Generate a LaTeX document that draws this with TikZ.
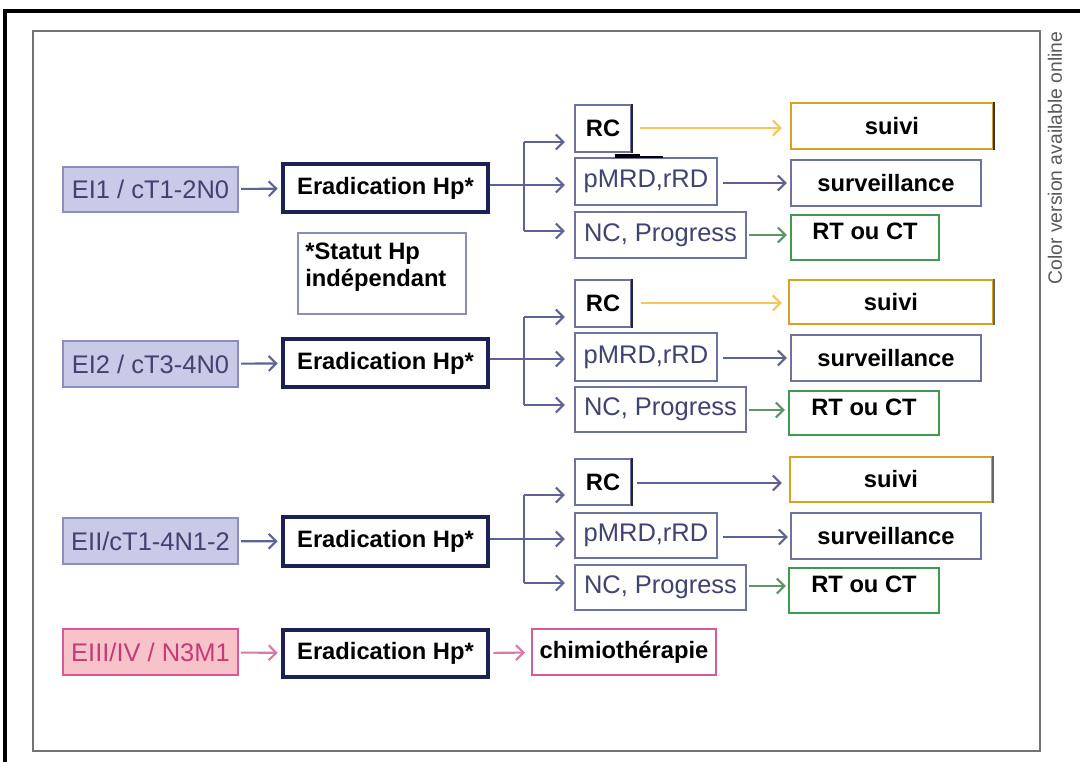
\documentclass[tikz,border=0pt]{standalone}
\usepackage{fontspec}
\setmainfont{Liberation Sans}
\usetikzlibrary{arrows.meta}
\definecolor{lav}{HTML}{C8CAE8}
\definecolor{lavb}{HTML}{8A8EBE}
\definecolor{slate}{HTML}{40436F}
\definecolor{navy}{HTML}{1C2155}
\definecolor{bgray}{HTML}{6E729F}
\definecolor{arrc}{HTML}{5F6391}
\definecolor{gold}{HTML}{D9A21E}
\definecolor{goldarr}{HTML}{F7C55A}
\definecolor{grn}{HTML}{3F9A4F}
\definecolor{grnarr}{HTML}{5E9468}
\definecolor{pinkf}{HTML}{F7C3C8}
\definecolor{pinkb}{HTML}{D65A98}
\definecolor{pinkt}{HTML}{C23C7A}
\definecolor{pinkarr}{HTML}{D87AA8}
\newcommand\reg{\fontsize{14.5pt}{16pt}\selectfont}
\newcommand\bld{\fontsize{13.5pt}{16pt}\selectfont\bfseries}
\newcommand\mybox[7]{\node[#6, minimum width={(#4-#2)*0.2mm}, minimum height={(#5-#3)*0.2mm}] (#1) at ({(#2+#4)/2},{(#3+#5)/2}) {#7};}
\newcommand\up[1]{\raisebox{2.4mm}{#1}}
\tikzset{
  base/.style={rectangle, inner sep=0pt, line width=1.2pt},
  stage/.style={base, fill=lav, draw=lavb, text=slate, font=\reg},
  erad/.style={base, draw=navy, line width=2.6pt, fill=white, font=\bld},
  plainbox/.style={base, draw=bgray, text=slate, font=\reg},
  rcbox/.style={base, draw=bgray, font=\bld},
  resbox/.style={base, draw=bgray, font=\bld},
  suivibox/.style={base, draw=gold, font=\bld},
  rtbox/.style={base, draw=grn, font=\bld},
  notebox/.style={base, draw=bgray!80, font=\bld, align=left},
  pinkstage/.style={base, fill=pinkf, draw=pinkb, text=pinkt, font=\reg},
  chimbox/.style={base, draw=pinkb, font=\bld},
  arr/.style={draw=arrc, line width=1.2pt, -{Straight Barb[length=1.5mm,width=3mm]}},
  garr/.style={arr, draw=goldarr},
  grarr/.style={arr, draw=grnarr},
  parr/.style={arr, draw=pinkarr},
  lin/.style={draw=arrc, line width=1.2pt},
}
\begin{document}
\begin{tikzpicture}[x=0.2mm,y=-0.2mm]
\useasboundingbox (0,0) rectangle (1080,762);
\fill[white] (0,0) rectangle (1080,762);
% frames
\draw[line width=2.4pt, black] (5,762) -- (5,11) -- (1080,11);
\draw[line width=1.2pt, black!55] (33,31) rectangle (1040,751);
\node[rotate=90, text=black!65, font=\fontsize{11pt}{13pt}\selectfont] (cv) at (1055,158) {Color version available online};

% row 1
\mybox{S1}{63}{167}{238}{212}{stage}{EI1 / cT1-2N0}
\mybox{E1}{283}{164}{488}{212}{erad}{Eradication Hp*}
\mybox{NOTE}{298}{233}{466}{314}{notebox}{}
\node[font=\bld, align=left, anchor=north west, inner sep=0pt] (notet) at (305,243) {*Statut Hp\\[-1pt]indépendant};
\mybox{RC1}{575}{105}{631}{152}{rcbox}{RC}
\mybox{P1}{575}{158}{717}{205}{plainbox}{pMRD,rRD}
\mybox{N1}{575}{212}{746}{258}{plainbox}{NC, Progress}
\mybox{SV1}{791}{103}{993}{149}{suivibox}{suivi}
\mybox{SU1}{791}{160}{981}{206}{resbox}{surveillance}
\mybox{RT1}{791}{215}{939}{260}{rtbox}{\up{RT ou CT}}
\draw[line width=1.6pt, black!85] (RC1.north east) -- (RC1.south east);
\draw[line width=1.6pt, black!80] (SV1.north east) -- (SV1.south east);
\draw[line width=2.2pt, black] (615,156) -- (640,156);
\draw[line width=1pt, black] (640,157) -- (663,157);
\coordinate (j1t) at (524,142);
\coordinate (j1m) at (524,185);
\coordinate (j1b) at (524,231);
\draw[arr, shorten <=0.4mm, shorten >=0.6mm] (S1) -- (E1);
\draw[arr, shorten >=1.8mm] (E1.east |- j1m) -- (P1.west |- j1m);
\draw[lin] (j1b) -- (j1t);
\draw[arr, shorten >=1.8mm] (j1t) -- (RC1.west |- j1t);
\draw[arr, shorten >=1.8mm] (j1b) -- (N1.west |- j1b);
\draw[garr, shorten <=1.6mm, shorten >=1.6mm] (RC1.east |- 0,128) -- (SV1.west |- 0,128);
\draw[arr, shorten <=1mm, shorten >=0.6mm] (P1.east |- 0,183) -- (SU1.west |- 0,183);
\draw[grarr, shorten <=0.4mm, shorten >=0.6mm] (N1.east |- 0,235) -- (RT1.west |- 0,235);

% row 2
\mybox{S2}{63}{341}{238}{387}{stage}{EI2 / cT3-4N0}
\mybox{E2}{283}{339}{488}{387}{erad}{Eradication Hp*}
\mybox{RC2}{575}{280}{631}{327}{rcbox}{RC}
\mybox{P2}{575}{333}{717}{381}{plainbox}{pMRD,rRD}
\mybox{N2}{575}{387}{746}{432}{plainbox}{NC, Progress}
\mybox{SV2}{789}{280}{993}{324}{suivibox}{suivi}
\mybox{SU2}{791}{335}{981}{381}{resbox}{surveillance}
\mybox{RT2}{789}{391}{939}{435}{rtbox}{\up{RT ou CT}}
\draw[line width=1.6pt, black!85] (RC2.north east) -- (RC2.south east);
\draw[line width=1.2pt, black!60] (SV2.north east) -- (SV2.south east);
\coordinate (j2t) at (524,317);
\coordinate (j2m) at (524,359);
\coordinate (j2b) at (524,405);
\draw[arr, shorten <=0.4mm, shorten >=0.6mm] (S2) -- (E2);
\draw[arr, shorten >=1.8mm] (E2.east |- j2m) -- (P2.west |- j2m);
\draw[lin] (j2b) -- (j2t);
\draw[arr, shorten >=1.8mm] (j2t) -- (RC2.west |- j2t);
\draw[arr, shorten >=1.8mm] (j2b) -- (N2.west |- j2b);
\draw[garr, shorten <=1.8mm, shorten >=1.2mm] (RC2.east |- 0,303) -- (SV2.west |- 0,303);
\draw[arr, shorten <=1mm, shorten >=0.6mm] (P2.east |- 0,358) -- (SU2.west |- 0,358);
\draw[grarr, shorten <=0.4mm, shorten >=0.6mm] (N2.east |- 0,410) -- (RT2.west |- 0,410);

% row 3
\mybox{S3}{63}{518}{238}{564}{stage}{EII/cT1-4N1-2}
\mybox{E3}{283}{517}{488}{566}{erad}{Eradication Hp*}
\mybox{RC3}{575}{459}{631}{505}{rcbox}{RC}
\mybox{P3}{575}{513}{717}{558}{plainbox}{pMRD,rRD}
\mybox{N3}{575}{565}{746}{610}{plainbox}{NC, Progress}
\mybox{SV3}{790}{457}{992}{502}{suivibox}{suivi}
\mybox{SU3}{791}{513}{981}{559}{resbox}{surveillance}
\mybox{RT3}{789}{568}{939}{613}{rtbox}{\up{RT ou CT}}
\draw[line width=1.6pt, black!85] (RC3.north east) -- (RC3.south east);
\draw[line width=1.2pt, black!60] (SV3.north east) -- (SV3.south east);
\coordinate (j3t) at (524,495);
\coordinate (j3m) at (524,539);
\coordinate (j3b) at (524,583);
\draw[arr, shorten <=0.4mm, shorten >=0.6mm] (S3) -- (E3);
\draw[arr, shorten >=1.8mm] (E3.east |- j3m) -- (P3.west |- j3m);
\draw[lin] (j3b) -- (j3t);
\draw[arr, shorten >=1.8mm] (j3t) -- (RC3.west |- j3t);
\draw[arr, shorten >=1.8mm] (j3b) -- (N3.west |- j3b);
\draw[arr, shorten <=1mm, shorten >=1.4mm] (RC3.east |- 0,483) -- (SV3.west |- 0,483);
\draw[arr, shorten <=1mm, shorten >=0.4mm] (P3.east |- 0,537) -- (SU3.west |- 0,537);
\draw[grarr, shorten <=0.4mm, shorten >=0.4mm] (N3.east |- 0,586) -- (RT3.west |- 0,586);

% row 4
\mybox{S4}{63}{629}{238}{675}{pinkstage}{EIII/IV / N3M1}
\mybox{E4}{283}{630}{488}{677}{erad}{Eradication Hp*}
\mybox{C4}{532}{629}{716}{675}{chimbox}{chimiothérapie}
\draw[parr, shorten <=0.4mm, shorten >=0.6mm] (S4) -- (E4);
\draw[parr, shorten <=0.6mm, shorten >=1.2mm] (E4) -- (C4);
\end{tikzpicture}
\end{document}
